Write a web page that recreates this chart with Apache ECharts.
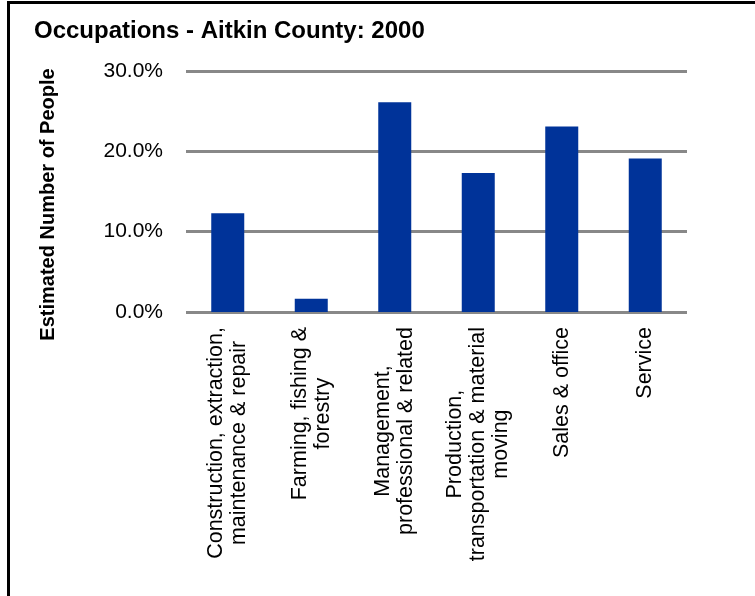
<!DOCTYPE html>
<html>
<head>
<meta charset="utf-8">
<script src="https://cdn.jsdelivr.net/npm/echarts@6/dist/echarts.min.js"></script>
<style>
  html, body { margin: 0; padding: 0; background: #fff; }
  #frame { position: absolute; left: 7px; top: 1px; width: 760px; height: 600px; border-left: 3px solid #000; border-top: 3px solid #000; }
  #chart { position: absolute; left: 0; top: 0; width: 755px; height: 596px; }
</style>
</head>
<body>
<div id="frame"></div>
<div id="chart"></div>
<script>
const titleText = "Occupations - Aitkin County: 2000";
const yAxisName = "Estimated Number of People";
const categories = [
  "Construction, extraction,\nmaintenance & repair",
  "Farming, fishing &\nforestry",
  "Management,\nprofessional & related",
  "Production,\ntransportation & material\nmoving",
  "Sales & office",
  "Service"
];
const shares = [12.3, 1.65, 26.1, 17.3, 23.1, 19.1];
const yTicks = { min: 0, max: 30, interval: 10 };

const font = "'Liberation Sans', Arial, Helvetica, sans-serif";
const chart = echarts.init(document.getElementById('chart'), null, { renderer: 'canvas' });
chart.setOption({
  backgroundColor: 'transparent',
  animation: false,
  title: {
    text: titleText, left: 29, top: 14,
    textStyle: { fontFamily: font, fontSize: 24, fontWeight: 'bold', color: '#000' }
  },
  grid: { left: 186, right: 68, top: 71, bottom: 284, containLabel: false },
  xAxis: {
    type: 'category', data: categories,
    axisLine: { show: false }, axisTick: { show: false },
    axisLabel: {
      interval: 0, rotate: 90, margin: 15, align: 'right',
      fontFamily: font, fontSize: 21.5, color: '#000',
      formatter: v => v.split('\n').map(s => '{c|' + s + '}').join('\n'),
      rich: { c: { align: 'center', fontFamily: font, fontSize: 21.5, lineHeight: 23, color: '#000' } }
    }
  },
  yAxis: {
    type: 'value', min: yTicks.min, max: yTicks.max, interval: yTicks.interval,
    name: yAxisName, nameLocation: 'middle', nameGap: 128,
    nameTextStyle: { fontFamily: font, fontSize: 20, fontWeight: 'bold', color: '#000', padding: [0, 26, 0, 0] },
    axisLine: { show: false }, axisTick: { show: false },
    axisLabel: { margin: 23, fontFamily: font, fontSize: 21, color: '#000', formatter: v => v.toFixed(1) + '%' },
    splitLine: { show: true, lineStyle: { color: '#888888', width: 3 } }
  },
  series: [{
    type: 'bar', data: shares, barWidth: 33,
    itemStyle: { color: '#003399' }
  }]
});
</script>
</body>
</html>
